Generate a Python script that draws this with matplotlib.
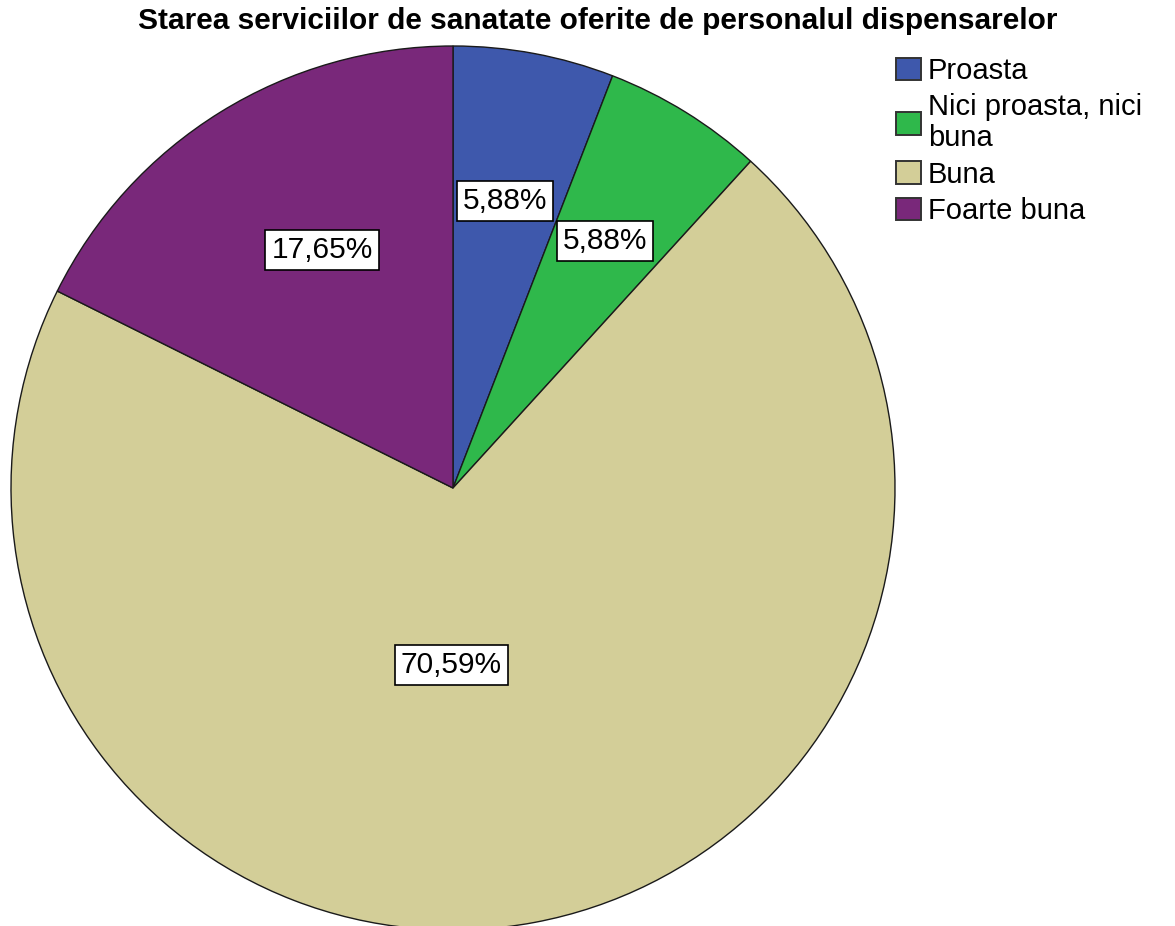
import matplotlib.pyplot as plt
import numpy as np
from matplotlib.patches import Patch

plt.rcParams['font.family'] = ['Liberation Sans', 'DejaVu Sans']

categories = ['Proasta', 'Nici proasta, nici\nbuna', 'Buna', 'Foarte buna']
percents = [5.88, 5.88, 70.59, 17.65]
colors = ['#3e58ac', '#2fb84b', '#d3ce98', '#79287a']

# label placement inside each wedge: (angle in degrees, distance as fraction of radius)
label_pos = [(79.7, 0.66), (58.4, 0.656), (-90.6, 0.40), (118.8, 0.615)]

W, H = 1175, 926
fig = plt.figure(figsize=(W / 100, H / 100), dpi=100)
ax = fig.add_axes([0, 0, 1, 1])

cx, cy, r = 453, H - 488, 442
wedges, _ = ax.pie(percents, colors=colors, startangle=90, counterclock=False,
                   center=(cx, cy), radius=r,
                   wedgeprops=dict(edgecolor='#1a1a1a', linewidth=1.0))
ax.set_xlim(0, W)
ax.set_ylim(0, H)
ax.set_aspect('equal')
ax.axis('off')

for p, (ang, d) in zip(percents, label_pos):
    t = np.deg2rad(ang)
    ax.text(cx + d * r * np.cos(t), cy + d * r * np.sin(t),
            ('%.2f%%' % p).replace('.', ','), ha='center', va='center',
            fontsize=21.5,
            bbox=dict(boxstyle='square,pad=0.2', facecolor='white',
                      edgecolor='black', linewidth=1.2))

fig.text(598 / W, 1 - 21 / H, 'Starea serviciilor de sanatate oferite de personalul dispensarelor',
         ha='center', va='center', fontsize=21.5, fontweight='bold')

handles = [Patch(facecolor=c, edgecolor='#333333', linewidth=1.4) for c in colors]
leg = fig.legend(handles, categories, loc='upper left',
                 bbox_to_anchor=(896 / W, 1 - 57 / H), frameon=False,
                 fontsize=21, handlelength=0.85, handleheight=0.8,
                 handletextpad=0.25, labelspacing=0.29, borderaxespad=0,
                 borderpad=0)
for txt in leg.get_texts():
    txt.set_linespacing(1.12)

fig.savefig('out.png', dpi=100)
